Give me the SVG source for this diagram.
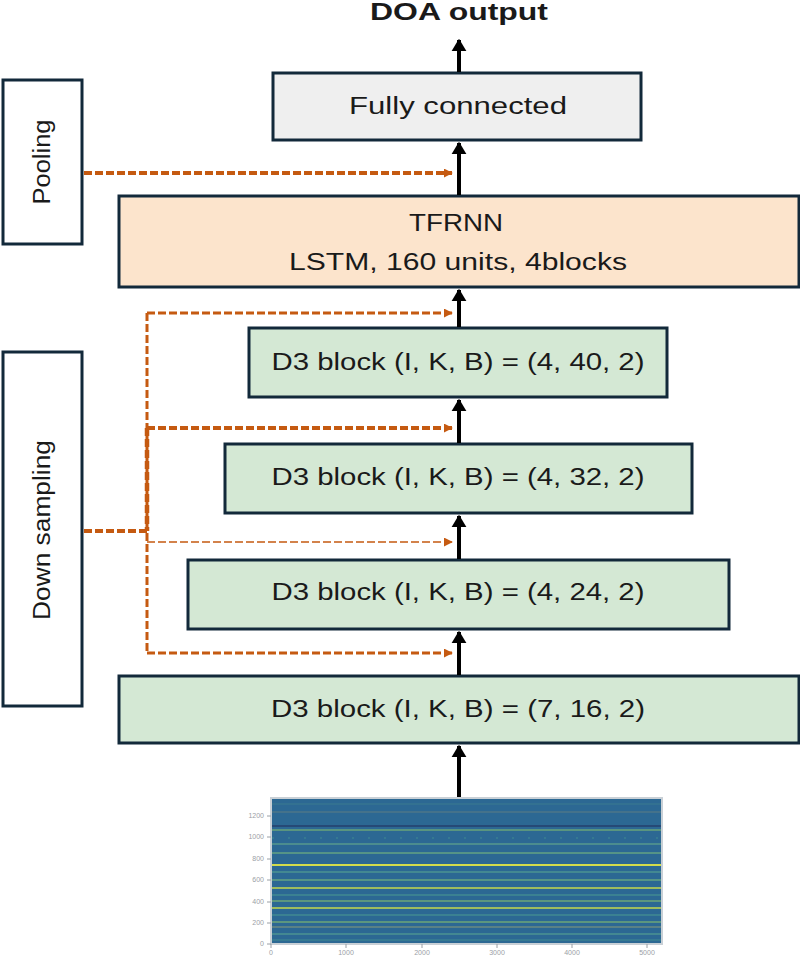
<svg xmlns="http://www.w3.org/2000/svg" width="800" height="956" viewBox="0 0 800 956">
<defs>
<style>
.box{stroke:#12293a;stroke-width:3}
.t{font-family:"Liberation Sans",Arial,sans-serif;font-size:23px;fill:#1a1a1a;text-anchor:middle}
.b{font-weight:bold}
.up{stroke:#000;stroke-width:4;fill:none}
.or{stroke:#c55a11;fill:none;stroke-dasharray:8 3}
.tick{font-family:"Liberation Sans",Arial,sans-serif;font-size:7px;fill:#9aa0a6}
.sl{fill:none}
</style>
<marker id="ah" viewBox="0 0 10 12" refX="9" refY="6" markerWidth="3.2" markerHeight="3.8" orient="auto" markerUnits="strokeWidth">
<path d="M0,0 L10,6 L0,12 Z" fill="#000"/>
</marker>
<marker id="oh" viewBox="0 0 10 10" refX="9" refY="5" markerWidth="9" markerHeight="9" orient="auto" markerUnits="userSpaceOnUse">
<path d="M0,0 L10,5 L0,10 Z" fill="#c55a11"/>
</marker>
</defs>
<rect width="800" height="956" fill="#fff"/>

<g id="doa-output">
<text class="t b" x="459" y="20" font-size="24" textLength="178" lengthAdjust="spacingAndGlyphs">DOA output</text>
</g>

<g id="fully-connected">
<rect class="box" x="273" y="73" width="368" height="67" fill="#efefef"/>
<text class="t" x="458" y="114" textLength="218" lengthAdjust="spacingAndGlyphs">Fully connected</text>
</g>

<g id="pooling">
<rect class="box" x="3" y="80" width="79" height="164" fill="#fff"/>
<text class="t" transform="translate(50,162) rotate(-90)" x="0" y="0" textLength="85" lengthAdjust="spacingAndGlyphs">Pooling</text>
</g>

<g id="tfrnn">
<rect class="box" x="119" y="196" width="680" height="91" fill="#fce4cc"/>
<text class="t" x="456" y="231" textLength="94" lengthAdjust="spacingAndGlyphs">TFRNN</text>
<text class="t" x="458" y="270" textLength="338" lengthAdjust="spacingAndGlyphs">LSTM, 160 units, 4blocks</text>
</g>

<g id="down-sampling">
<rect class="box" x="3" y="352" width="79" height="354" fill="#fff"/>
<text class="t" transform="translate(50,530) rotate(-90)" x="0" y="0" textLength="180" lengthAdjust="spacingAndGlyphs">Down sampling</text>
</g>

<g id="d3-block-4-40-2">
<rect class="box" x="249" y="328" width="418" height="69" fill="#d4e8d4"/>
<text class="t" x="458" y="370" textLength="373" lengthAdjust="spacingAndGlyphs">D3 block (I, K, B) = (4, 40, 2)</text>
</g>

<g id="d3-block-4-32-2">
<rect class="box" x="225" y="444" width="467" height="69" fill="#d4e8d4"/>
<text class="t" x="458" y="485" textLength="373" lengthAdjust="spacingAndGlyphs">D3 block (I, K, B) = (4, 32, 2)</text>
</g>

<g id="d3-block-4-24-2">
<rect class="box" x="188" y="560" width="541" height="69" fill="#d4e8d4"/>
<text class="t" x="458" y="600" textLength="373" lengthAdjust="spacingAndGlyphs">D3 block (I, K, B) = (4, 24, 2)</text>
</g>

<g id="d3-block-7-16-2">
<rect class="box" x="119" y="676" width="680" height="67" fill="#d4e8d4"/>
<text class="t" x="458" y="717" textLength="374" lengthAdjust="spacingAndGlyphs">D3 block (I, K, B) = (7, 16, 2)</text>
</g>

<g id="spectrogram">
<rect x="271" y="798" width="391" height="146" fill="#2c6893" stroke="#c9d0d6" stroke-width="2"/>
<g class="sl">
<line x1="272" x2="661" y1="804" y2="804" stroke="#3b7a8f" stroke-width="1"/>
<line x1="272" x2="661" y1="812" y2="812" stroke="#4d7688" stroke-width="1.5"/>
<line x1="272" x2="661" y1="826" y2="826" stroke="#243f6c" stroke-width="1.5"/>
<line x1="272" x2="661" y1="830" y2="830" stroke="#86c06c" stroke-width="1"/>
<line x1="272" x2="661" y1="838" y2="838" stroke="#3f8a90" stroke-width="1" stroke-dasharray="2 14"/>
<line x1="272" x2="661" y1="844" y2="844" stroke="#6ab08a" stroke-width="1"/>
<line x1="272" x2="661" y1="853" y2="853" stroke="#7fbf7a" stroke-width="1"/>
<line x1="272" x2="661" y1="865" y2="865" stroke="#d2dc4c" stroke-width="2"/>
<line x1="272" x2="661" y1="872" y2="872" stroke="#5aa890" stroke-width="1"/>
<line x1="272" x2="661" y1="880" y2="880" stroke="#7fbf7a" stroke-width="1.2"/>
<line x1="272" x2="661" y1="888" y2="888" stroke="#c4d84c" stroke-width="1.5"/>
<line x1="272" x2="661" y1="895" y2="895" stroke="#4a9a90" stroke-width="1"/>
<line x1="272" x2="661" y1="901" y2="901" stroke="#8cc46a" stroke-width="1.2"/>
<line x1="272" x2="661" y1="908" y2="908" stroke="#c4d84c" stroke-width="1.5"/>
<line x1="272" x2="661" y1="915" y2="915" stroke="#4a9a90" stroke-width="1"/>
<line x1="272" x2="661" y1="922" y2="922" stroke="#8cc46a" stroke-width="1"/>
<line x1="272" x2="661" y1="927" y2="927" stroke="#6a8a80" stroke-width="1.5"/>
<line x1="272" x2="661" y1="934" y2="934" stroke="#5aa890" stroke-width="1"/>
<line x1="272" x2="661" y1="940" y2="940" stroke="#3f8a90" stroke-width="1"/>
</g>
<g stroke="#9aa0a6" stroke-width="1">
<line x1="267" x2="271" y1="816" y2="816"/>
<line x1="267" x2="271" y1="837" y2="837"/>
<line x1="267" x2="271" y1="859" y2="859"/>
<line x1="267" x2="271" y1="880" y2="880"/>
<line x1="267" x2="271" y1="902" y2="902"/>
<line x1="267" x2="271" y1="923" y2="923"/>
<line x1="267" x2="271" y1="944" y2="944"/>
<line x1="271" x2="271" y1="944" y2="948"/>
<line x1="346" x2="346" y1="944" y2="948"/>
<line x1="422" x2="422" y1="944" y2="948"/>
<line x1="497" x2="497" y1="944" y2="948"/>
<line x1="572" x2="572" y1="944" y2="948"/>
<line x1="647" x2="647" y1="944" y2="948"/>
</g>
<g class="tick" text-anchor="end">
<text x="264" y="818">1200</text>
<text x="264" y="839">1000</text>
<text x="264" y="861">800</text>
<text x="264" y="882">600</text>
<text x="264" y="904">400</text>
<text x="264" y="925">200</text>
<text x="264" y="946">0</text>
</g>
<g class="tick" text-anchor="middle">
<text x="271" y="955">0</text>
<text x="346" y="955">1000</text>
<text x="422" y="955">2000</text>
<text x="497" y="955">3000</text>
<text x="572" y="955">4000</text>
<text x="647" y="955">5000</text>
</g>
</g>

<g id="connectors">
<line class="up" x1="459" y1="72" x2="459" y2="40" marker-end="url(#ah)"/>
<line class="up" x1="459" y1="195" x2="459" y2="143" marker-end="url(#ah)"/>
<line class="up" x1="459" y1="327" x2="459" y2="290" marker-end="url(#ah)"/>
<line class="up" x1="459" y1="443" x2="459" y2="400" marker-end="url(#ah)"/>
<line class="up" x1="459" y1="559" x2="459" y2="516" marker-end="url(#ah)"/>
<line class="up" x1="459" y1="675" x2="459" y2="632" marker-end="url(#ah)"/>
<line class="up" x1="459" y1="797" x2="459" y2="746" marker-end="url(#ah)"/>

<line class="or" x1="84" y1="173" x2="452" y2="173" stroke-width="4" marker-end="url(#oh)"/>
<line class="or" x1="84" y1="531" x2="147" y2="531" stroke-width="4"/>
<line class="or" x1="147" y1="313" x2="147" y2="653" stroke-width="3"/>
<line class="or" x1="147" y1="428" x2="147" y2="531" stroke-width="4.5"/>
<line class="or" x1="147" y1="313" x2="452" y2="313" stroke-width="3" marker-end="url(#oh)"/>
<line class="or" x1="147" y1="428" x2="452" y2="428" stroke-width="4" marker-end="url(#oh)"/>
<line class="or" x1="147" y1="542" x2="452" y2="542" stroke-width="1.5" marker-end="url(#oh)"/>
<line class="or" x1="147" y1="653" x2="452" y2="653" stroke-width="3" marker-end="url(#oh)"/>
</g>
</svg>
